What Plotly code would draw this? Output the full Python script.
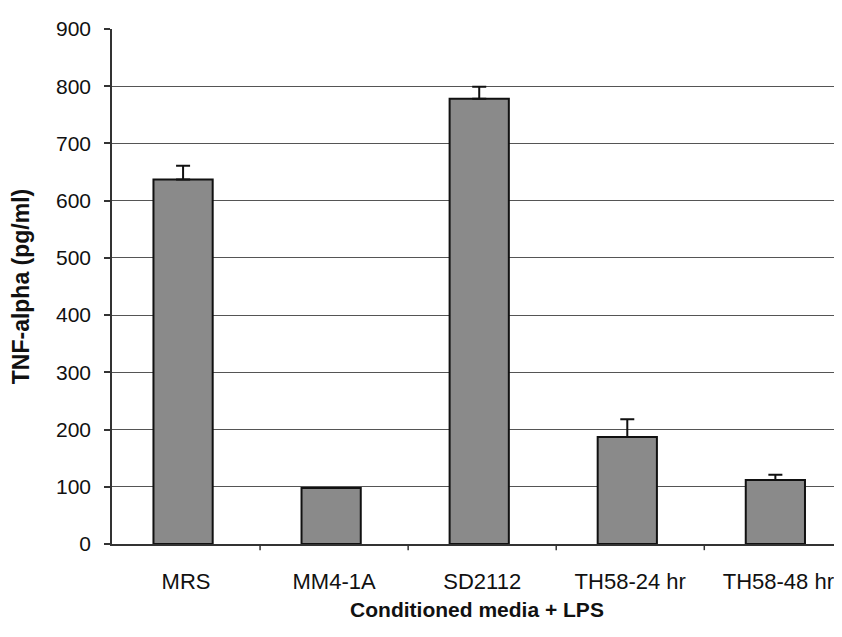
import plotly.graph_objects as go

categories = ["MRS", "MM4-1A", "SD2112", "TH58-24 hr", "TH58-48 hr"]
values = [637, 98, 778, 187, 112]
errors = [24, 0, 21, 31, 9]
y_ticks = [0, 100, 200, 300, 400, 500, 600, 700, 800, 900]

fig = go.Figure()
fig.add_trace(go.Bar(
    x=list(range(len(categories))),
    y=values,
    width=0.40,
    offset=-0.22,
    marker=dict(color="#8a8a8a", line=dict(color="#111111", width=2)),
    error_y=dict(type="data", symmetric=False, array=errors,
                 arrayminus=[0] * len(errors), visible=True, color="#111111",
                 thickness=2, width=7),
    showlegend=False,
))

font_family = "Liberation Sans, Arial, sans-serif"
fig.update_layout(
    width=834, height=629,
    margin=dict(l=104, r=0, t=21, b=93),
    paper_bgcolor="white", plot_bgcolor="white",
    font=dict(family=font_family, color="#111111", size=21),
    xaxis=dict(
        tickmode="array",
        tickvals=list(range(len(categories))),
        ticktext=categories,
        range=[-0.5, 4.43],
        showgrid=False,
        showline=True, linecolor="#333333", linewidth=1.5,
        ticks="",
        tickfont=dict(size=22),
        ticklabelstandoff=17,
        title=dict(text="<b>Conditioned media + LPS</b>", font=dict(size=21), standoff=9),
        zeroline=False,
    ),
    yaxis=dict(
        range=[0, 900],
        tickmode="array",
        tickvals=y_ticks,
        showgrid=True, gridcolor="#555555", gridwidth=1.2,
        showline=True, linecolor="#333333", linewidth=1.5,
        ticks="outside", ticklen=6, tickcolor="#333333", tickwidth=1.5,
        tickfont=dict(size=21),
        ticklabelstandoff=9,
        title=dict(text="<b>TNF-alpha (pg/ml)</b>", font=dict(size=23), standoff=24),
        zeroline=False,
    ),
)

# category boundary ticks on the x axis
for b in [0.5, 1.5, 2.5, 3.5]:
    fig.add_shape(type="line", xref="x", yref="paper", x0=b, x1=b, y0=0, y1=-0.012,
                  line=dict(color="#333333", width=1.5))

fig.write_html("out.html")
